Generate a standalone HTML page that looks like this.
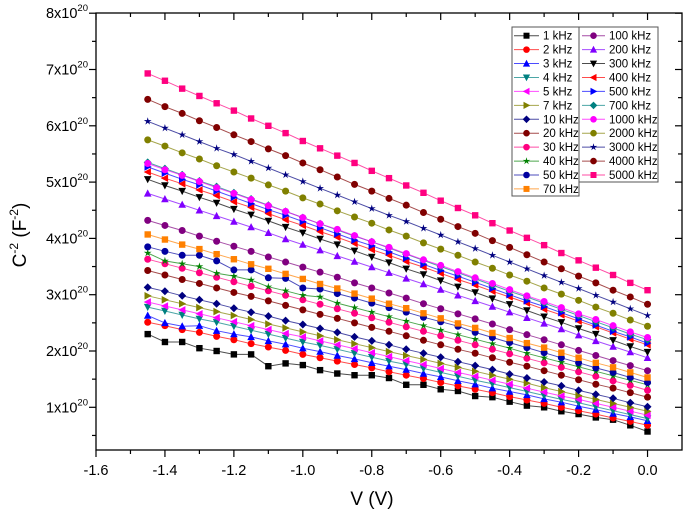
<!DOCTYPE html>
<html><head><meta charset="utf-8"><style>
body{margin:0;background:#fff;}
svg{display:block;font-family:"Liberation Sans",Arial,sans-serif;}
</style></head><body>
<svg id="chart" width="685" height="517" viewBox="0 0 685 517"></svg>
<script>
const seriesNames=["1 kHz","2 kHz","3 kHz","4 kHz","5 kHz","7 kHz","10 kHz","20 kHz","30 kHz","40 kHz","50 kHz","70 kHz","100 kHz","200 kHz","300 kHz","400 kHz","500 kHz","700 kHz","1000 kHz","2000 kHz","3000 kHz","4000 kHz","5000 kHz"];
const xStart=-1.45, xStep=0.05;
const s1k=[2.30,2.16,2.16,2.05,2.00,1.94,1.94,1.73,1.78,1.75,1.66,1.60,1.57,1.57,1.52,1.40,1.40,1.32,1.29,1.20,1.18,1.10,1.03,1.00,0.93,0.88,0.82,0.78,0.68,0.57];
const s2k=[2.51,2.45,2.38,2.33,2.26,2.20,2.13,2.07,2.01,1.94,1.88,1.82,1.76,1.70,1.63,1.57,1.51,1.44,1.38,1.32,1.26,1.19,1.13,1.07,1.00,0.94,0.88,0.81,0.75,0.68];
const s3k=[2.63,2.50,2.44,2.45,2.36,2.30,2.25,2.18,2.12,2.05,1.99,1.92,1.86,1.79,1.73,1.67,1.60,1.54,1.47,1.41,1.34,1.28,1.22,1.15,1.09,1.02,0.96,0.89,0.83,0.76];
const s4k=[2.78,2.71,2.64,2.57,2.51,2.44,2.37,2.30,2.23,2.16,2.10,2.03,1.96,1.89,1.82,1.76,1.69,1.62,1.55,1.48,1.42,1.35,1.28,1.21,1.14,1.08,1.01,0.94,0.87,0.80];
const s5k=[2.87,2.80,2.73,2.66,2.59,2.52,2.45,2.38,2.31,2.25,2.18,2.11,2.04,1.97,1.90,1.83,1.76,1.69,1.62,1.55,1.48,1.41,1.34,1.27,1.20,1.14,1.07,1.00,0.93,0.86];
const s7k=[2.98,2.91,2.84,2.77,2.70,2.63,2.56,2.48,2.41,2.34,2.27,2.20,2.13,2.06,1.99,1.92,1.85,1.78,1.71,1.64,1.57,1.50,1.43,1.35,1.28,1.21,1.14,1.07,1.00,0.93];
const s10k=[3.13,3.06,2.98,2.91,2.84,2.76,2.69,2.62,2.54,2.47,2.40,2.33,2.25,2.18,2.11,2.03,1.96,1.89,1.81,1.74,1.67,1.59,1.52,1.45,1.38,1.30,1.23,1.16,1.08,1.01];
const s20k=[3.43,3.35,3.27,3.20,3.12,3.04,2.97,2.89,2.81,2.73,2.65,2.58,2.50,2.42,2.35,2.27,2.19,2.11,2.03,1.96,1.88,1.80,1.73,1.65,1.57,1.49,1.41,1.34,1.26,1.18];
const s30k=[3.63,3.55,3.47,3.39,3.31,3.23,3.15,3.07,2.99,2.91,2.83,2.75,2.67,2.59,2.51,2.43,2.35,2.27,2.19,2.11,2.03,1.95,1.87,1.79,1.71,1.63,1.55,1.47,1.39,1.30];
const s40k=[3.74,3.60,3.55,3.50,3.38,3.33,3.26,3.14,3.07,2.99,2.96,2.85,2.77,2.69,2.61,2.53,2.45,2.37,2.29,2.21,2.13,2.05,1.96,1.88,1.80,1.72,1.64,1.56,1.48,1.40];
const s50k=[3.85,3.77,3.70,3.70,3.60,3.44,3.44,3.30,3.29,3.12,3.10,3.02,2.94,2.85,2.77,2.69,2.60,2.52,2.44,2.33,2.24,2.15,2.06,1.97,1.88,1.79,1.70,1.62,1.53,1.44];
const s70k=[4.07,3.98,3.89,3.81,3.72,3.63,3.54,3.46,3.37,3.28,3.19,3.11,3.02,2.93,2.84,2.76,2.67,2.58,2.49,2.41,2.32,2.23,2.14,2.06,1.97,1.88,1.79,1.71,1.62,1.53];
const s100k=[4.32,4.23,4.14,4.04,3.95,3.86,3.77,3.67,3.58,3.49,3.40,3.31,3.21,3.12,3.03,2.94,2.84,2.75,2.66,2.57,2.48,2.38,2.29,2.20,2.11,2.01,1.92,1.83,1.74,1.65];
const s200k=[4.80,4.70,4.60,4.50,4.40,4.30,4.20,4.10,3.99,3.89,3.79,3.69,3.59,3.49,3.39,3.29,3.19,3.09,2.99,2.89,2.79,2.69,2.59,2.49,2.39,2.28,2.18,2.08,1.98,1.88];
const s300k=[5.05,4.94,4.84,4.73,4.63,4.52,4.42,4.31,4.20,4.10,3.99,3.89,3.78,3.67,3.57,3.46,3.36,3.25,3.14,3.04,2.93,2.83,2.72,2.61,2.51,2.40,2.30,2.19,2.08,1.98];
const s400k=[5.18,5.07,4.97,4.86,4.76,4.65,4.55,4.44,4.33,4.23,4.12,4.02,3.91,3.80,3.70,3.59,3.49,3.38,3.27,3.17,3.06,2.96,2.85,2.74,2.64,2.53,2.43,2.32,2.21,2.11];
const s500k=[5.27,5.16,5.05,4.95,4.84,4.73,4.62,4.51,4.41,4.30,4.19,4.08,3.97,3.87,3.76,3.65,3.54,3.43,3.33,3.22,3.11,3.00,2.89,2.79,2.68,2.57,2.46,2.35,2.25,2.14];
const s700k=[5.35,5.24,5.13,5.02,4.92,4.81,4.70,4.59,4.48,4.37,4.26,4.15,4.04,3.94,3.83,3.72,3.61,3.50,3.39,3.28,3.17,3.06,2.96,2.85,2.74,2.63,2.52,2.41,2.30,2.20];
const s1000k=[5.33,5.22,5.12,5.01,4.90,4.80,4.69,4.58,4.48,4.37,4.26,4.16,4.05,3.94,3.84,3.73,3.62,3.52,3.41,3.30,3.20,3.09,2.98,2.88,2.77,2.66,2.56,2.45,2.34,2.24];
const s2000k=[5.75,5.64,5.52,5.41,5.29,5.18,5.07,4.95,4.84,4.72,4.61,4.49,4.38,4.27,4.15,4.04,3.92,3.81,3.70,3.58,3.47,3.35,3.24,3.12,3.01,2.90,2.78,2.67,2.55,2.44];
const s3000k=[6.08,5.96,5.84,5.72,5.60,5.49,5.37,5.25,5.13,5.01,4.89,4.77,4.65,4.53,4.41,4.30,4.18,4.06,3.94,3.82,3.70,3.58,3.46,3.34,3.22,3.11,2.99,2.87,2.75,2.63];
const s4000k=[6.47,6.34,6.22,6.09,5.97,5.84,5.72,5.59,5.47,5.34,5.22,5.09,4.96,4.84,4.71,4.59,4.46,4.34,4.21,4.09,3.96,3.84,3.71,3.58,3.46,3.33,3.21,3.08,2.96,2.83];
const s5000k=[6.93,6.80,6.66,6.53,6.40,6.27,6.13,6.00,5.87,5.73,5.60,5.47,5.34,5.20,5.07,4.94,4.81,4.67,4.54,4.41,4.27,4.14,4.01,3.88,3.74,3.61,3.48,3.35,3.21,3.08];
const seriesValues=[s1k,s2k,s3k,s4k,s5k,s7k,s10k,s20k,s30k,s40k,s50k,s70k,s100k,s200k,s300k,s400k,s500k,s700k,s1000k,s2000k,s3000k,s4000k,s5000k];
const xTickLabels=["-1.6","-1.4","-1.2","-1.0","-0.8","-0.6","-0.4","-0.2","0.0"];
const yTickLabels=["1","2","3","4","5","6","7","8"];

const colors=["#000000","#ff0000","#0000ff","#008080","#ff00ff","#808000","#000080","#800000","#ff0080","#008000","#0000a0","#ff8000","#800080","#8000ff","#000000","#ff0000","#0000ff","#008080","#ff00ff","#808000","#000080","#800000","#ff0080"];
const markers=["sq","ci","tu","td","tl","tr","di","ci","ci","st","ci","sq","ci","tu","td","tl","tr","di","ci","ci","st","ci","sq"];

const NS="http://www.w3.org/2000/svg";
const svg=document.getElementById('chart');
const L=96,R=682,T=13,B=450;
const X0=-1.6,X1=0.1;
const Y1=8, YPX=56.3; // px per unit; y=1 at 407.3
function xs(v){return L+(v-X0)/(X1-X0)*(R-L);}
function ys(v){return 407.3-(v-1)*YPX;}
function mk(tag,attrs,parent){const e=document.createElementNS(NS,tag);for(const k in attrs)e.setAttribute(k,attrs[k]);(parent||svg).appendChild(e);return e;}

function marker(type,cx,cy,col,g,r){
  r=r||3.2;let e;
  if(type==="sq")e=mk('rect',{x:cx-r,y:cy-r,width:2*r,height:2*r,fill:col},g);
  else if(type==="ci")e=mk('circle',{cx:cx,cy:cy,r:r+0.3,fill:col},g);
  else{let p;
    if(type==="tu")p=[[0,-r-0.8],[r+0.6,r],[-r-0.6,r]];
    else if(type==="td")p=[[0,r+0.8],[r+0.6,-r],[-r-0.6,-r]];
    else if(type==="tl")p=[[-r-0.8,0],[r,-r-0.6],[r,r+0.6]];
    else if(type==="tr")p=[[r+0.8,0],[-r,-r-0.6],[-r,r+0.6]];
    else if(type==="di")p=[[0,-r-0.8],[r+0.8,0],[0,r+0.8],[-r-0.8,0]];
    else {p=[];for(let i=0;i<10;i++){const a=-Math.PI/2+i*Math.PI/5;const rr=i%2?r*0.45:r+0.9;p.push([rr*Math.cos(a),rr*Math.sin(a)]);}}
    e=mk('polygon',{points:p.map(q=>(cx+q[0]).toFixed(1)+","+(cy+q[1]).toFixed(1)).join(" "),fill:col},g);
  }
  return e;
}

// frame
const frame=mk('rect',{x:L,y:T,width:R-L,height:B-T,fill:"none",stroke:"#000","stroke-width":1.3});


// x ticks
const xg=mk('g',{});

for(let i=0;i<xTickLabels.length;i++){
  const v=parseFloat(xTickLabels[i]);const x=xs(v);
  mk('line',{x1:x,y1:B,x2:x,y2:B+7,stroke:"#000","stroke-width":1.2},xg);
  mk('line',{x1:x,y1:T,x2:x,y2:T+7,stroke:"#000","stroke-width":1.2},xg);
  const t=mk('text',{x:x,y:B+25,"text-anchor":"middle","font-size":14.5},xg);t.textContent=xTickLabels[i];
  
  const xm=xs(v+0.1);
  if(xm<R){mk('line',{x1:xm,y1:B,x2:xm,y2:B+4,stroke:"#000","stroke-width":1.2},xg);mk('line',{x1:xm,y1:T,x2:xm,y2:T+4,stroke:"#000","stroke-width":1.2},xg);}
}
// y ticks
const yg=mk('g',{});

for(let i=0;i<yTickLabels.length;i++){
  const v=parseFloat(yTickLabels[i]);const y=ys(v);
  mk('line',{x1:L-7,y1:y,x2:L,y2:y,stroke:"#000","stroke-width":1.2},yg);
  mk('line',{x1:R-7,y1:y,x2:R,y2:y,stroke:"#000","stroke-width":1.2},yg);
  const t=mk('text',{x:L-8,y:y+5,"text-anchor":"end","font-size":14.5},yg);
  
  t.appendChild(document.createTextNode(yTickLabels[i]+"x10"));
  const sp=mk('tspan',{dy:-7,"font-size":9.5},t);sp.textContent="20";
  const ym=ys(v-0.5);
  if(ym<B){mk('line',{x1:L-4,y1:ym,x2:L,y2:ym,stroke:"#000","stroke-width":1.2},yg);mk('line',{x1:R-4,y1:ym,x2:R,y2:ym,stroke:"#000","stroke-width":1.2},yg);}
}
// axis titles
const xt=mk('text',{x:372,y:505,"text-anchor":"middle","font-size":19});xt.textContent="V (V)";

const yt=mk('text',{x:0,y:0,"text-anchor":"middle","font-size":19,transform:"translate(26,235) rotate(-90)"});

yt.appendChild(document.createTextNode("C"));
let sp1=mk('tspan',{dy:-8,"font-size":12},yt);sp1.textContent="-2";
let sp2=mk('tspan',{dy:8},yt);sp2.textContent=" (F";
let sp3=mk('tspan',{dy:-8,"font-size":12},yt);sp3.textContent="-2";
let sp4=mk('tspan',{dy:8},yt);sp4.textContent=")";

// series
for(let s=0;s<seriesValues.length;s++){
  const g=mk('g',{});
  
  
  const vals=seriesValues[s];
  const pts=vals.map((v,i)=>xs(xStart+i*xStep).toFixed(1)+","+ys(v).toFixed(1)).join(" ");
  mk('polyline',{points:pts,fill:"none",stroke:colors[s],"stroke-width":1,"stroke-opacity":0.7},g);
  vals.forEach((v,i)=>{
    const m=marker(markers[s],xs(xStart+i*xStep),ys(v),colors[s],g);
    
    
  });
}

// legend
const lg=mk('g',{});

mk('rect',{x:512,y:27,width:67,height:169,fill:"#fff",stroke:"#555","stroke-width":1},lg);
mk('rect',{x:579,y:27,width:79,height:155,fill:"#fff",stroke:"#555","stroke-width":1},lg);
for(let s=0;s<seriesNames.length;s++){
  const col=s<12?0:1;const row=s<12?s:s-12;
  const y=35.7+row*13.93;
  const x0=col?582:514, x1=col?605:539, tx=col?609:543;
  const e=mk('g',{},lg);
  
  mk('line',{x1:x0,y1:y,x2:x1,y2:y,stroke:colors[s],"stroke-width":1,"stroke-opacity":0.7},e);
  marker(markers[s],(x0+x1)/2,y,colors[s],e,3);
  const t=mk('text',{x:tx,y:y+4,"font-size":11.5},e);t.textContent=seriesNames[s];
}
</script>
</body></html>
